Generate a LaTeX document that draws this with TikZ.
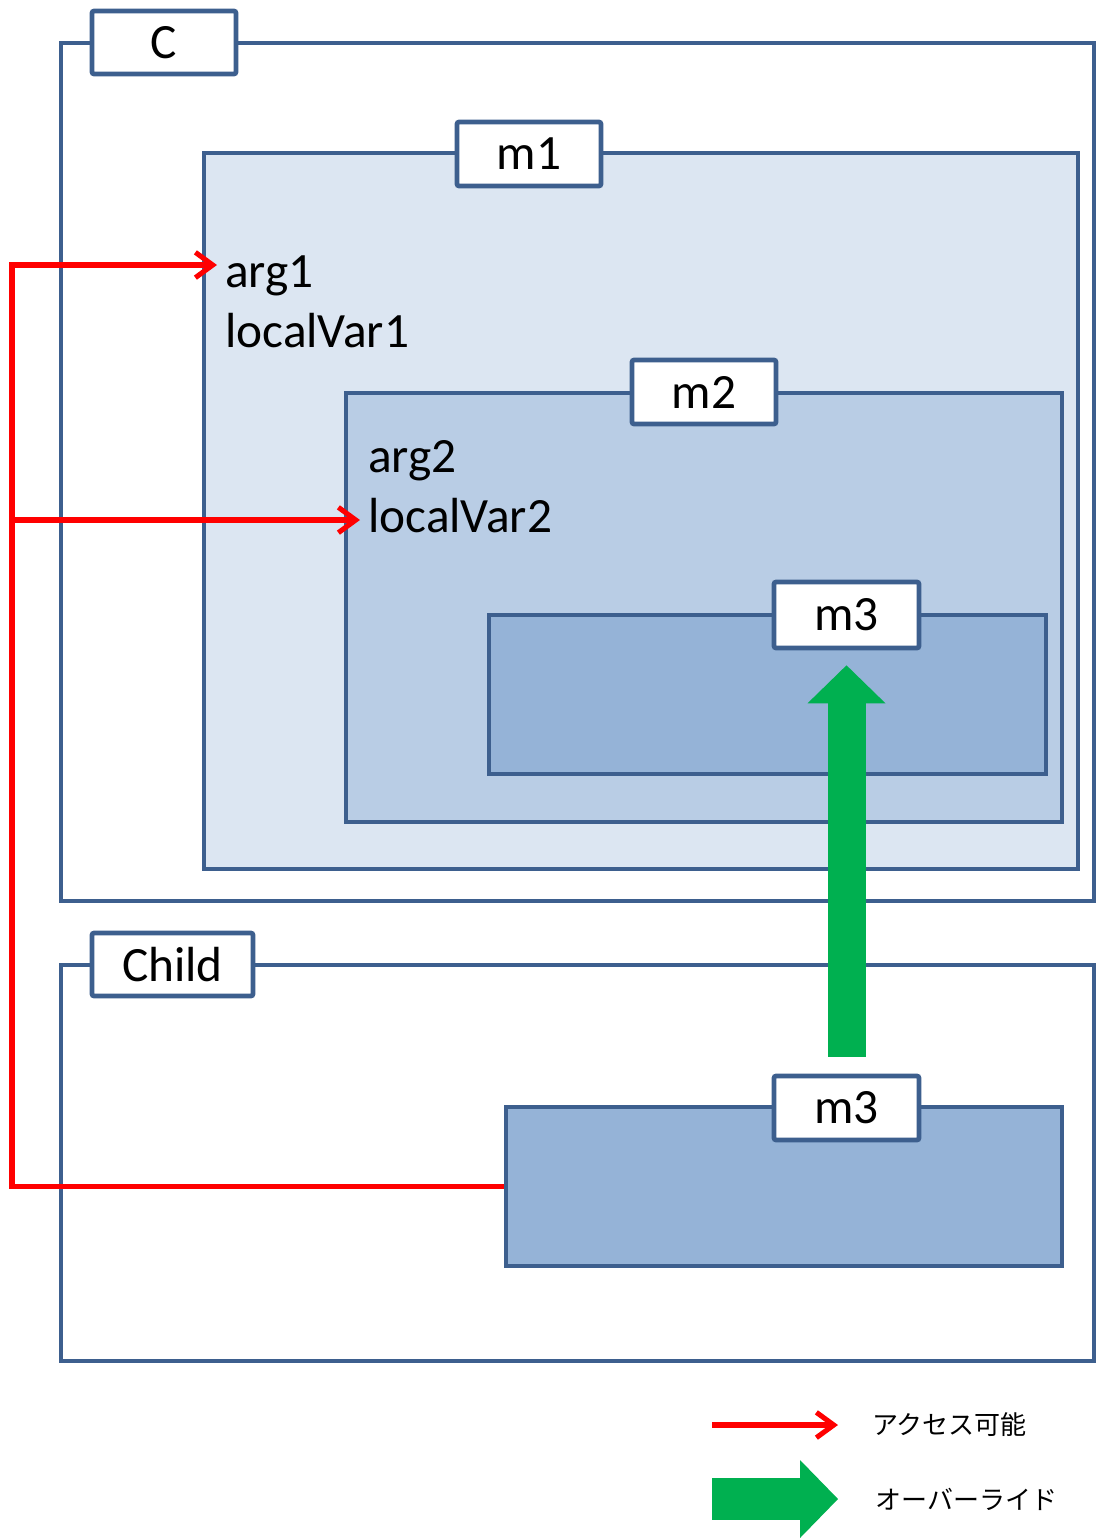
\documentclass[tikz,border=0pt]{standalone}
\usepackage{fontspec}
\setmainfont{Carlito}
\newfontfamily\jpfont{Noto Sans CJK JP}
\usetikzlibrary{fit,arrows.meta}
\definecolor{frame}{HTML}{3D5F8E}
\definecolor{lvA}{HTML}{DCE6F2}
\definecolor{lvB}{HTML}{B9CDE5}
\definecolor{lvC}{HTML}{95B3D7}
\definecolor{ovgreen}{HTML}{00B050}
\begin{document}
\begin{tikzpicture}[x=0.75pt,y=-0.75pt,
  area/.style={draw=frame, line width=3.5pt, inner sep=0pt},
  tag/.style={area, fill=white, rounded corners=1.5pt,
    label={[inner sep=0pt, font=\fontsize{37}{44}\selectfont]center:#1}},
  var/.style={inner sep=0pt, anchor=base west, font=\fontsize{37}{44}\selectfont},
  access/.style={draw=red, line width=3.8pt, -{Straight Barb[length=13pt,width=19pt]}},
  override/.style={draw=ovgreen, line width=28.5pt,
    -{Triangle[length=28.5pt,width=58.5pt,line width=0pt,fill=ovgreen]}},
  legend/.style={inner sep=0pt, anchor=west, font=\jpfont\fontsize{19.5}{22}\selectfont}
]
\path[fill=white] (0,0) rectangle (1097,1538);
\useasboundingbox (0,0) rectangle (1097,1538);

% class C with nested methods
\node[area, fill=white, fit={(61,43) (1094,901)}] (classC) {};
\node[area, fill=lvA, fit={(204,153) (1078,869)}] (m1) {};
\node[area, fill=lvB, fit={(346,393) (1062,822)}] (m2) {};
\node[area, fill=lvC, fit={(489,615) (1046,774)}] (m3) {};
\node[tag=C, fit={(92,11) (236,74)}] (tagC) {};
\node[tag=m1, fit={(457,122) (601,186)}] (tagM1) {};
\node[tag=m2, fit={(632,360) (776,424)}] (tagM2) {};
\node[tag=m3, fit={(774,582) (919,648)}] (tagM3) {};

\node[var] (arg1) at (225,287) {arg1};
\node[var] (lv1) at (225,347) {localVar1};
\node[var] (arg2) at (368,472) {arg2};
\node[var] (lv2) at (368,532) {localVar2};

% subclass Child
\node[area, fill=white, fit={(61,965) (1094,1361)}] (child) {};
\node[area, fill=lvC, fit={(506,1107) (1062,1266)}] (cm3) {};
\node[tag=Child, fit={(92,933) (253,996)}] (tagChild) {};
\node[tag=m3, fit={(774,1076) (919,1140)}] (tagCm3) {};

% access paths
\coordinate (busTop) at (12,265);
\coordinate (busMid) at (12,520);
\draw[access, shorten >=6pt] (cm3.west) -| (busTop) -- (busTop -| arg1.west);
\draw[access, shorten >=6pt] (busMid) -- (busMid -| lv2.west);

% override
\draw[override, shorten <=12.75pt, shorten >=11.25pt] (tagCm3.north) -- (tagM3.south);

% legend
\coordinate (lgAcc) at (712,1425);
\node[legend] (lgAccText) at (872,1425) {アクセス可能};
\draw[access, shorten >=25.5pt] (lgAcc) -- (lgAccText.west);
\coordinate (lgOv) at (712,1499);
\node[legend] (lgOvText) at (875,1499) {オーバーライド};
\draw[override, line width=31pt, shorten >=27.75pt] (lgOv) -- (lgOvText.west);
\end{tikzpicture}
\end{document}
